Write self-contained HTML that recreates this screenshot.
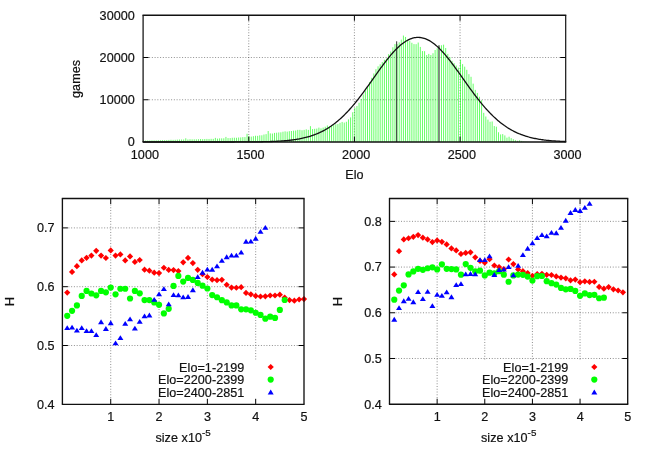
<!DOCTYPE html>
<html><head><meta charset="utf-8"><title>Elo distribution and H vs size</title>
<style>html,body{margin:0;padding:0;background:#fff;}body{width:654px;height:458px;overflow:hidden;}svg{display:block;will-change:transform;font-family:"Liberation Sans",sans-serif;font-size:12.6px;fill:#111;letter-spacing:0.05px;}text{stroke:#111;stroke-width:0.2px;}.g{stroke:#444;stroke-width:0.6;stroke-dasharray:1 1.75;fill:none;}.a{stroke:#111;stroke-width:1;fill:none;}.t{stroke:#000;stroke-width:1;fill:none;}.r{fill:#ff0000;}.gr{fill:#00ff00;}.bl{fill:#0000ff;}</style></head><body>
<svg width="654" height="458" viewBox="0 0 654 458">
<rect x="0" y="0" width="654" height="458" fill="#ffffff"/>
<g class="g">
<line x1="149.1" y1="99.75" x2="559.7" y2="99.75"/>
<line x1="149.1" y1="57.5" x2="559.7" y2="57.5"/>
<line x1="248.75" y1="21.25" x2="248.75" y2="136"/>
<line x1="354.4" y1="21.25" x2="354.4" y2="136"/>
<line x1="460.05" y1="21.25" x2="460.05" y2="136"/>
</g>
<g stroke="#00ff00" stroke-opacity="0.6" stroke-width="1">
<line x1="143.52" y1="140.61" x2="143.52" y2="142"/>
<line x1="145.64" y1="140.59" x2="145.64" y2="142"/>
<line x1="147.75" y1="140.47" x2="147.75" y2="142"/>
<line x1="149.86" y1="140.51" x2="149.86" y2="142"/>
<line x1="151.97" y1="140.39" x2="151.97" y2="142"/>
<line x1="154.09" y1="140.37" x2="154.09" y2="142"/>
<line x1="156.2" y1="140.37" x2="156.2" y2="142"/>
<line x1="158.31" y1="140.23" x2="158.31" y2="142"/>
<line x1="160.43" y1="140.26" x2="160.43" y2="142"/>
<line x1="162.54" y1="140.13" x2="162.54" y2="142"/>
<line x1="164.65" y1="140.14" x2="164.65" y2="142"/>
<line x1="166.77" y1="140.07" x2="166.77" y2="142"/>
<line x1="168.88" y1="139.95" x2="168.88" y2="142"/>
<line x1="170.99" y1="139.8" x2="170.99" y2="142"/>
<line x1="173.1" y1="139.89" x2="173.1" y2="142"/>
<line x1="175.22" y1="139.8" x2="175.22" y2="142"/>
<line x1="177.33" y1="139.64" x2="177.33" y2="142"/>
<line x1="179.44" y1="139.5" x2="179.44" y2="142"/>
<line x1="181.56" y1="139.53" x2="181.56" y2="142"/>
<line x1="183.67" y1="139.51" x2="183.67" y2="142"/>
<line x1="185.78" y1="138.31" x2="185.78" y2="142"/>
<line x1="187.9" y1="139.51" x2="187.9" y2="142"/>
<line x1="190.01" y1="139.24" x2="190.01" y2="142"/>
<line x1="192.12" y1="139.35" x2="192.12" y2="142"/>
<line x1="194.23" y1="139.34" x2="194.23" y2="142"/>
<line x1="196.35" y1="139.3" x2="196.35" y2="142"/>
<line x1="198.46" y1="139.2" x2="198.46" y2="142"/>
<line x1="200.57" y1="139.01" x2="200.57" y2="142"/>
<line x1="202.69" y1="139.15" x2="202.69" y2="142"/>
<line x1="204.8" y1="138.99" x2="204.8" y2="142"/>
<line x1="206.91" y1="138.92" x2="206.91" y2="142"/>
<line x1="209.03" y1="138.96" x2="209.03" y2="142"/>
<line x1="211.14" y1="138.83" x2="211.14" y2="142"/>
<line x1="213.25" y1="138.88" x2="213.25" y2="142"/>
<line x1="215.36" y1="137.88" x2="215.36" y2="142"/>
<line x1="217.48" y1="138.63" x2="217.48" y2="142"/>
<line x1="219.59" y1="138.36" x2="219.59" y2="142"/>
<line x1="221.7" y1="138.36" x2="221.7" y2="142"/>
<line x1="223.82" y1="138.31" x2="223.82" y2="142"/>
<line x1="225.93" y1="136.92" x2="225.93" y2="142"/>
<line x1="228.04" y1="138.08" x2="228.04" y2="142"/>
<line x1="230.16" y1="138.06" x2="230.16" y2="142"/>
<line x1="232.27" y1="137.76" x2="232.27" y2="142"/>
<line x1="234.38" y1="137.69" x2="234.38" y2="142"/>
<line x1="236.49" y1="137.77" x2="236.49" y2="142"/>
<line x1="238.61" y1="137.51" x2="238.61" y2="142"/>
<line x1="240.72" y1="137.42" x2="240.72" y2="142"/>
<line x1="242.83" y1="137.14" x2="242.83" y2="142"/>
<line x1="244.95" y1="137.09" x2="244.95" y2="142"/>
<line x1="247.06" y1="133.75" x2="247.06" y2="142"/>
<line x1="249.17" y1="136.43" x2="249.17" y2="142"/>
<line x1="251.29" y1="136.64" x2="251.29" y2="142"/>
<line x1="253.4" y1="136.21" x2="253.4" y2="142"/>
<line x1="255.51" y1="135.75" x2="255.51" y2="142"/>
<line x1="257.62" y1="135.87" x2="257.62" y2="142"/>
<line x1="259.74" y1="135.33" x2="259.74" y2="142"/>
<line x1="261.85" y1="135.31" x2="261.85" y2="142"/>
<line x1="263.96" y1="134.53" x2="263.96" y2="142"/>
<line x1="266.08" y1="134.12" x2="266.08" y2="142"/>
<line x1="268.19" y1="131.04" x2="268.19" y2="142"/>
<line x1="270.3" y1="133.39" x2="270.3" y2="142"/>
<line x1="272.42" y1="133.56" x2="272.42" y2="142"/>
<line x1="274.53" y1="132.92" x2="274.53" y2="142"/>
<line x1="276.64" y1="132.71" x2="276.64" y2="142"/>
<line x1="278.75" y1="132.44" x2="278.75" y2="142"/>
<line x1="280.87" y1="132.33" x2="280.87" y2="142"/>
<line x1="282.98" y1="131.72" x2="282.98" y2="142"/>
<line x1="285.09" y1="131.37" x2="285.09" y2="142"/>
<line x1="287.21" y1="131.62" x2="287.21" y2="142"/>
<line x1="289.32" y1="131.19" x2="289.32" y2="142"/>
<line x1="291.43" y1="131.01" x2="291.43" y2="142"/>
<line x1="293.55" y1="130.68" x2="293.55" y2="142"/>
<line x1="295.66" y1="130.51" x2="295.66" y2="142"/>
<line x1="297.77" y1="129.87" x2="297.77" y2="142"/>
<line x1="299.88" y1="129.83" x2="299.88" y2="142"/>
<line x1="302" y1="130.24" x2="302" y2="142"/>
<line x1="304.11" y1="129.89" x2="304.11" y2="142"/>
<line x1="306.22" y1="129.3" x2="306.22" y2="142"/>
<line x1="308.34" y1="129.89" x2="308.34" y2="142"/>
<line x1="310.45" y1="126.17" x2="310.45" y2="142"/>
<line x1="312.56" y1="129.1" x2="312.56" y2="142"/>
<line x1="314.68" y1="128.82" x2="314.68" y2="142"/>
<line x1="316.79" y1="128.62" x2="316.79" y2="142"/>
<line x1="318.9" y1="127.62" x2="318.9" y2="142"/>
<line x1="321.01" y1="128.37" x2="321.01" y2="142"/>
<line x1="323.13" y1="127.59" x2="323.13" y2="142"/>
<line x1="325.24" y1="126.76" x2="325.24" y2="142"/>
<line x1="327.35" y1="125.44" x2="327.35" y2="142"/>
<line x1="329.47" y1="126.42" x2="329.47" y2="142"/>
<line x1="331.58" y1="125.53" x2="331.58" y2="142"/>
<line x1="333.69" y1="125.08" x2="333.69" y2="142"/>
<line x1="335.81" y1="124.31" x2="335.81" y2="142"/>
<line x1="337.92" y1="124.09" x2="337.92" y2="142"/>
<line x1="340.03" y1="122.8" x2="340.03" y2="142"/>
<line x1="342.14" y1="121.91" x2="342.14" y2="142"/>
<line x1="344.26" y1="122.6" x2="344.26" y2="142"/>
<line x1="346.37" y1="121.76" x2="346.37" y2="142"/>
<line x1="348.48" y1="119.37" x2="348.48" y2="142"/>
<line x1="350.6" y1="117.42" x2="350.6" y2="142"/>
<line x1="352.71" y1="112.28" x2="352.71" y2="142"/>
<line x1="354.82" y1="107.79" x2="354.82" y2="142"/>
<line x1="356.94" y1="105.97" x2="356.94" y2="142"/>
<line x1="359.05" y1="102.74" x2="359.05" y2="142"/>
<line x1="361.16" y1="98.89" x2="361.16" y2="142"/>
<line x1="363.27" y1="94.52" x2="363.27" y2="142"/>
<line x1="365.39" y1="90.66" x2="365.39" y2="142"/>
<line x1="367.5" y1="86.79" x2="367.5" y2="142"/>
<line x1="369.61" y1="81.98" x2="369.61" y2="142"/>
<line x1="371.73" y1="77.78" x2="371.73" y2="142"/>
<line x1="373.84" y1="73.47" x2="373.84" y2="142"/>
<line x1="375.95" y1="69.21" x2="375.95" y2="142"/>
<line x1="378.07" y1="66.34" x2="378.07" y2="142"/>
<line x1="380.18" y1="64.31" x2="380.18" y2="142"/>
<line x1="382.29" y1="61.98" x2="382.29" y2="142"/>
<line x1="384.4" y1="59.75" x2="384.4" y2="142"/>
<line x1="386.52" y1="58.52" x2="386.52" y2="142"/>
<line x1="388.63" y1="54.16" x2="388.63" y2="142"/>
<line x1="390.74" y1="51.54" x2="390.74" y2="142"/>
<line x1="392.86" y1="47.28" x2="392.86" y2="142"/>
<line x1="394.97" y1="44.09" x2="394.97" y2="142"/>
<line x1="397.08" y1="44.06" x2="397.08" y2="142"/>
<line x1="399.2" y1="42.36" x2="399.2" y2="142"/>
<line x1="401.31" y1="39.63" x2="401.31" y2="142"/>
<line x1="403.42" y1="35.56" x2="403.42" y2="142"/>
<line x1="405.53" y1="36.96" x2="405.53" y2="142"/>
<line x1="407.65" y1="39.67" x2="407.65" y2="142"/>
<line x1="409.76" y1="40.76" x2="409.76" y2="142"/>
<line x1="411.87" y1="42.78" x2="411.87" y2="142"/>
<line x1="413.99" y1="44.12" x2="413.99" y2="142"/>
<line x1="416.1" y1="44.16" x2="416.1" y2="142"/>
<line x1="418.21" y1="42.54" x2="418.21" y2="142"/>
<line x1="420.33" y1="46.93" x2="420.33" y2="142"/>
<line x1="422.44" y1="51.06" x2="422.44" y2="142"/>
<line x1="424.55" y1="51.18" x2="424.55" y2="142"/>
<line x1="426.66" y1="55.02" x2="426.66" y2="142"/>
<line x1="428.78" y1="53.89" x2="428.78" y2="142"/>
<line x1="430.89" y1="55.02" x2="430.89" y2="142"/>
<line x1="433" y1="53.24" x2="433" y2="142"/>
<line x1="435.12" y1="50.03" x2="435.12" y2="142"/>
<line x1="437.23" y1="48.25" x2="437.23" y2="142"/>
<line x1="439.34" y1="45.72" x2="439.34" y2="142"/>
<line x1="441.46" y1="45.25" x2="441.46" y2="142"/>
<line x1="443.57" y1="44.68" x2="443.57" y2="142"/>
<line x1="445.68" y1="47.99" x2="445.68" y2="142"/>
<line x1="447.79" y1="53.92" x2="447.79" y2="142"/>
<line x1="449.91" y1="57.18" x2="449.91" y2="142"/>
<line x1="452.02" y1="60.84" x2="452.02" y2="142"/>
<line x1="454.13" y1="63.2" x2="454.13" y2="142"/>
<line x1="456.25" y1="65.52" x2="456.25" y2="142"/>
<line x1="458.36" y1="67.69" x2="458.36" y2="142"/>
<line x1="460.47" y1="59.72" x2="460.47" y2="142"/>
<line x1="462.59" y1="64.11" x2="462.59" y2="142"/>
<line x1="464.7" y1="66.66" x2="464.7" y2="142"/>
<line x1="466.81" y1="69.81" x2="466.81" y2="142"/>
<line x1="468.92" y1="74.16" x2="468.92" y2="142"/>
<line x1="471.04" y1="76.79" x2="471.04" y2="142"/>
<line x1="473.15" y1="83.66" x2="473.15" y2="142"/>
<line x1="475.26" y1="89.9" x2="475.26" y2="142"/>
<line x1="477.38" y1="92.93" x2="477.38" y2="142"/>
<line x1="479.49" y1="96.74" x2="479.49" y2="142"/>
<line x1="481.6" y1="100.26" x2="481.6" y2="142"/>
<line x1="483.72" y1="112.85" x2="483.72" y2="142"/>
<line x1="485.83" y1="116.51" x2="485.83" y2="142"/>
<line x1="487.94" y1="119.65" x2="487.94" y2="142"/>
<line x1="490.05" y1="121.76" x2="490.05" y2="142"/>
<line x1="492.17" y1="121.47" x2="492.17" y2="142"/>
<line x1="494.28" y1="126.04" x2="494.28" y2="142"/>
<line x1="496.39" y1="126.7" x2="496.39" y2="142"/>
<line x1="498.51" y1="132.26" x2="498.51" y2="142"/>
<line x1="500.62" y1="134.43" x2="500.62" y2="142"/>
<line x1="502.73" y1="134.12" x2="502.73" y2="142"/>
<line x1="504.85" y1="135.41" x2="504.85" y2="142"/>
<line x1="506.96" y1="137.64" x2="506.96" y2="142"/>
<line x1="509.07" y1="136.71" x2="509.07" y2="142"/>
<line x1="511.18" y1="138.11" x2="511.18" y2="142"/>
<line x1="513.3" y1="139.18" x2="513.3" y2="142"/>
<line x1="515.41" y1="140.12" x2="515.41" y2="142"/>
<line x1="517.52" y1="140.75" x2="517.52" y2="142"/>
<line x1="519.64" y1="140.25" x2="519.64" y2="142"/>
<line x1="521.75" y1="140.88" x2="521.75" y2="142"/>
<line x1="523.86" y1="141.38" x2="523.86" y2="142"/>
<line x1="525.98" y1="141.59" x2="525.98" y2="142"/>
<line x1="528.09" y1="141.76" x2="528.09" y2="142"/>
</g>
<line x1="396.66" y1="41.3" x2="396.66" y2="142" stroke="#333" stroke-width="1"/>
<line x1="438.92" y1="45.2" x2="438.92" y2="142" stroke="#777" stroke-width="1.6"/>
<polyline fill="none" stroke="#111" stroke-width="1.3" points="143.1,142 144.16,142 145.21,142 146.27,142 147.33,142 148.38,142 149.44,142 150.5,142 151.55,142 152.61,142 153.66,142 154.72,142 155.78,142 156.83,142 157.89,142 158.95,142 160,142 161.06,142 162.12,142 163.17,142 164.23,142 165.29,142 166.34,142 167.4,142 168.46,142 169.51,142 170.57,142 171.63,142 172.68,142 173.74,142 174.79,142 175.85,142 176.91,142 177.96,142 179.02,142 180.08,142 181.13,142 182.19,142 183.25,142 184.3,142 185.36,142 186.42,142 187.47,142 188.53,142 189.59,142 190.64,142 191.7,142 192.76,142 193.81,142 194.87,142 195.93,142 196.98,142 198.04,142 199.09,142 200.15,142 201.21,142 202.26,142 203.32,142 204.38,142 205.43,142 206.49,142 207.55,142 208.6,142 209.66,142 210.72,142 211.77,142 212.83,142 213.89,142 214.94,142 216,142 217.06,142 218.11,141.99 219.17,141.99 220.22,141.99 221.28,141.99 222.34,141.99 223.39,141.99 224.45,141.99 225.51,141.99 226.56,141.99 227.62,141.99 228.68,141.99 229.73,141.98 230.79,141.98 231.85,141.98 232.9,141.98 233.96,141.98 235.02,141.97 236.07,141.97 237.13,141.97 238.19,141.97 239.24,141.96 240.3,141.96 241.35,141.96 242.41,141.95 243.47,141.95 244.52,141.94 245.58,141.94 246.64,141.93 247.69,141.92 248.75,141.92 249.81,141.91 250.86,141.9 251.92,141.89 252.98,141.88 254.03,141.87 255.09,141.86 256.15,141.85 257.2,141.83 258.26,141.82 259.31,141.8 260.37,141.78 261.43,141.77 262.48,141.75 263.54,141.72 264.6,141.7 265.65,141.68 266.71,141.65 267.77,141.62 268.82,141.59 269.88,141.55 270.94,141.52 271.99,141.48 273.05,141.44 274.11,141.39 275.16,141.35 276.22,141.3 277.28,141.24 278.33,141.18 279.39,141.12 280.44,141.06 281.5,140.99 282.56,140.91 283.61,140.83 284.67,140.75 285.73,140.66 286.78,140.56 287.84,140.46 288.9,140.35 289.95,140.23 291.01,140.11 292.07,139.98 293.12,139.84 294.18,139.7 295.24,139.54 296.29,139.38 297.35,139.21 298.41,139.03 299.46,138.83 300.52,138.63 301.58,138.42 302.63,138.19 303.69,137.96 304.74,137.71 305.8,137.45 306.86,137.17 307.91,136.88 308.97,136.58 310.03,136.26 311.08,135.93 312.14,135.58 313.2,135.21 314.25,134.83 315.31,134.43 316.37,134.01 317.42,133.58 318.48,133.12 319.54,132.65 320.59,132.15 321.65,131.64 322.71,131.1 323.76,130.55 324.82,129.97 325.87,129.37 326.93,128.74 327.99,128.1 329.04,127.43 330.1,126.73 331.16,126.02 332.21,125.28 333.27,124.51 334.33,123.72 335.38,122.9 336.44,122.06 337.5,121.19 338.55,120.3 339.61,119.38 340.67,118.43 341.72,117.46 342.78,116.46 343.84,115.44 344.89,114.39 345.95,113.32 347,112.22 348.06,111.1 349.12,109.95 350.17,108.77 351.23,107.58 352.29,106.36 353.34,105.11 354.4,103.85 355.46,102.56 356.51,101.25 357.57,99.93 358.63,98.58 359.68,97.21 360.74,95.83 361.8,94.43 362.85,93.02 363.91,91.59 364.97,90.15 366.02,88.7 367.08,87.24 368.13,85.77 369.19,84.29 370.25,82.8 371.3,81.31 372.36,79.82 373.42,78.33 374.47,76.83 375.53,75.34 376.59,73.85 377.64,72.37 378.7,70.9 379.76,69.43 380.81,67.97 381.87,66.53 382.93,65.1 383.98,63.69 385.04,62.3 386.1,60.92 387.15,59.57 388.21,58.25 389.26,56.94 390.32,55.67 391.38,54.43 392.43,53.21 393.49,52.03 394.55,50.89 395.6,49.78 396.66,48.71 397.72,47.68 398.77,46.69 399.83,45.74 400.89,44.84 401.94,43.99 403,43.18 404.06,42.42 405.11,41.71 406.17,41.05 407.23,40.45 408.28,39.89 409.34,39.39 410.39,38.95 411.45,38.56 412.51,38.23 413.56,37.95 414.62,37.73 415.68,37.57 416.73,37.46 417.79,37.42 418.85,37.43 419.9,37.5 420.96,37.63 422.02,37.81 423.07,38.05 424.13,38.35 425.19,38.71 426.24,39.12 427.3,39.59 428.36,40.11 429.41,40.68 430.47,41.31 431.52,41.99 432.58,42.72 433.64,43.5 434.69,44.33 435.75,45.2 436.81,46.12 437.86,47.08 438.92,48.09 439.98,49.13 441.03,50.22 442.09,51.34 443.15,52.5 444.2,53.69 445.26,54.92 446.32,56.18 447.37,57.46 448.43,58.77 449.49,60.11 450.54,61.47 451.6,62.85 452.65,64.25 453.71,65.67 454.77,67.11 455.82,68.55 456.88,70.01 457.94,71.48 458.99,72.96 460.05,74.45 461.11,75.94 462.16,77.43 463.22,78.92 464.28,80.42 465.33,81.91 466.39,83.4 467.45,84.88 468.5,86.36 469.56,87.82 470.62,89.28 471.67,90.73 472.73,92.17 473.78,93.59 474.84,95 475.9,96.39 476.95,97.76 478.01,99.12 479.07,100.46 480.12,101.78 481.18,103.08 482.24,104.36 483.29,105.61 484.35,106.85 485.41,108.06 486.46,109.25 487.52,110.41 488.58,111.55 489.63,112.66 490.69,113.75 491.75,114.81 492.8,115.85 493.86,116.87 494.91,117.85 495.97,118.81 497.03,119.75 498.08,120.66 499.14,121.54 500.2,122.4 501.25,123.23 502.31,124.04 503.37,124.82 504.42,125.58 505.48,126.31 506.54,127.01 507.59,127.7 508.65,128.36 509.71,129 510.76,129.61 511.82,130.2 512.88,130.77 513.93,131.32 514.99,131.85 516.04,132.35 517.1,132.84 518.16,133.3 519.21,133.75 520.27,134.18 521.33,134.59 522.38,134.98 523.44,135.36 524.5,135.72 525.55,136.06 526.61,136.39 527.67,136.7 528.72,137 529.78,137.28 530.84,137.55 531.89,137.81 532.95,138.05 534,138.28 535.06,138.5 536.12,138.71 537.17,138.91 538.23,139.1 539.29,139.28 540.34,139.45 541.4,139.61 542.46,139.76 543.51,139.9 544.57,140.03 545.63,140.16 546.68,140.28 547.74,140.39 548.8,140.5 549.85,140.6 550.91,140.69 551.97,140.78 553.02,140.86 554.08,140.94 555.13,141.02 556.19,141.08 557.25,141.15 558.3,141.21 559.36,141.26 560.42,141.32 561.47,141.37 562.53,141.41 563.59,141.46 564.64,141.5 565.7,141.53"/>
<g class="t">
<line x1="143.1" y1="99.75" x2="148.6" y2="99.75"/>
<line x1="565.7" y1="99.75" x2="560.2" y2="99.75"/>
<line x1="143.1" y1="57.5" x2="148.6" y2="57.5"/>
<line x1="565.7" y1="57.5" x2="560.2" y2="57.5"/>
<line x1="248.75" y1="142" x2="248.75" y2="136.5"/>
<line x1="248.75" y1="15.25" x2="248.75" y2="20.75"/>
<line x1="354.4" y1="142" x2="354.4" y2="136.5"/>
<line x1="354.4" y1="15.25" x2="354.4" y2="20.75"/>
<line x1="460.05" y1="142" x2="460.05" y2="136.5"/>
<line x1="460.05" y1="15.25" x2="460.05" y2="20.75"/>
</g>
<line class="a" style="stroke-width:1.3" x1="142.5" y1="15.25" x2="566.3" y2="15.25"/>
<line class="a" style="stroke-width:1.3" x1="142.5" y1="142" x2="566.3" y2="142"/>
<line class="a" style="stroke:#111;stroke-width:1.25" x1="143.1" y1="15.25" x2="143.1" y2="142"/>
<line class="a" style="stroke-width:1.2" x1="565.7" y1="15.25" x2="565.7" y2="142"/>
<text x="134.9" y="146.3" text-anchor="end">0</text>
<text x="134.9" y="104.05" text-anchor="end">10000</text>
<text x="134.9" y="61.8" text-anchor="end">20000</text>
<text x="134.9" y="19.55" text-anchor="end">30000</text>
<text x="144.9" y="159.3" text-anchor="middle">1000</text>
<text x="250.55" y="159.3" text-anchor="middle">1500</text>
<text x="356.2" y="159.3" text-anchor="middle">2000</text>
<text x="461.85" y="159.3" text-anchor="middle">2500</text>
<text x="567.5" y="159.3" text-anchor="middle">3000</text>
<text x="354.4" y="178.8" text-anchor="middle">Elo</text>
<text transform="translate(80.3,78.9) rotate(-90)" text-anchor="middle">games</text>
<g class="g">
<line x1="68.4" y1="345.5" x2="298" y2="345.5"/>
<line x1="68.4" y1="286.7" x2="298" y2="286.7"/>
<line x1="68.4" y1="227.9" x2="298" y2="227.9"/>
<line x1="110.72" y1="204.5" x2="110.72" y2="398.3"/>
<line x1="159.04" y1="204.5" x2="159.04" y2="360.6"/>
<line x1="207.36" y1="204.5" x2="207.36" y2="360.6"/>
<line x1="255.68" y1="204.5" x2="255.68" y2="360.6"/>
</g>
<g class="r"><path d="M67.23 289.48L70.33 292.58L67.23 295.68L64.13 292.58Z"/><path d="M72.06 268.81L75.16 271.91L72.06 275.01L68.96 271.91Z"/><path d="M76.9 263.05L80 266.15L76.9 269.25L73.8 266.15Z"/><path d="M81.73 257.28L84.83 260.38L81.73 263.48L78.63 260.38Z"/><path d="M86.56 254.7L89.66 257.8L86.56 260.9L83.46 257.8Z"/><path d="M91.39 252.51L94.49 255.61L91.39 258.71L88.29 255.61Z"/><path d="M96.22 247.74L99.32 250.84L96.22 253.94L93.12 250.84Z"/><path d="M101.06 252.51L104.16 255.61L101.06 258.71L97.96 255.61Z"/><path d="M105.89 254.9L108.99 258L105.89 261.1L102.79 258Z"/><path d="M110.72 247.34L113.82 250.44L110.72 253.54L107.62 250.44Z"/><path d="M115.55 252.51L118.65 255.61L115.55 258.71L112.45 255.61Z"/><path d="M120.38 251.32L123.48 254.42L120.38 257.52L117.28 254.42Z"/><path d="M125.22 257.28L128.32 260.38L125.22 263.48L122.12 260.38Z"/><path d="M130.05 253.31L133.15 256.41L130.05 259.51L126.95 256.41Z"/><path d="M134.88 258.87L137.98 261.97L134.88 265.07L131.78 261.97Z"/><path d="M139.71 256.88L142.81 259.98L139.71 263.08L136.61 259.98Z"/><path d="M144.54 266.62L147.64 269.72L144.54 272.82L141.44 269.72Z"/><path d="M149.38 267.62L152.48 270.72L149.38 273.82L146.28 270.72Z"/><path d="M154.21 269.61L157.31 272.71L154.21 275.81L151.11 272.71Z"/><path d="M159.04 270L162.14 273.1L159.04 276.2L155.94 273.1Z"/><path d="M163.87 264.64L166.97 267.74L163.87 270.84L160.77 267.74Z"/><path d="M168.7 266.82L171.8 269.92L168.7 273.02L165.6 269.92Z"/><path d="M173.54 267.02L176.64 270.12L173.54 273.22L170.44 270.12Z"/><path d="M178.37 267.96L181.47 271.06L178.37 274.16L175.27 271.06Z"/><path d="M183.2 259.21L186.3 262.31L183.2 265.41L180.1 262.31Z"/><path d="M188.03 254.84L191.13 257.94L188.03 261.04L184.93 257.94Z"/><path d="M192.86 260L195.96 263.1L192.86 266.2L189.76 263.1Z"/><path d="M197.7 266.76L200.8 269.86L197.7 272.96L194.6 269.86Z"/><path d="M202.53 271.14L205.63 274.24L202.53 277.34L199.43 274.24Z"/><path d="M207.36 273.92L210.46 277.02L207.36 280.12L204.26 277.02Z"/><path d="M212.19 276.5L215.29 279.6L212.19 282.7L209.09 279.6Z"/><path d="M217.02 277.1L220.12 280.2L217.02 283.3L213.92 280.2Z"/><path d="M221.86 276.7L224.96 279.8L221.86 282.9L218.76 279.8Z"/><path d="M226.69 281.67L229.79 284.77L226.69 287.87L223.59 284.77Z"/><path d="M231.52 284.45L234.62 287.55L231.52 290.65L228.42 287.55Z"/><path d="M236.35 284.65L239.45 287.75L236.35 290.85L233.25 287.75Z"/><path d="M241.18 284.06L244.28 287.16L241.18 290.26L238.08 287.16Z"/><path d="M246.02 289.82L249.12 292.92L246.02 296.02L242.92 292.92Z"/><path d="M250.85 291.21L253.95 294.31L250.85 297.41L247.75 294.31Z"/><path d="M255.68 292.8L258.78 295.9L255.68 299L252.58 295.9Z"/><path d="M260.51 293.4L263.61 296.5L260.51 299.6L257.41 296.5Z"/><path d="M265.34 293.2L268.44 296.3L265.34 299.4L262.24 296.3Z"/><path d="M270.18 292.4L273.28 295.5L270.18 298.6L267.08 295.5Z"/><path d="M275.01 292.4L278.11 295.5L275.01 298.6L271.91 295.5Z"/><path d="M279.84 291.61L282.94 294.71L279.84 297.81L276.74 294.71Z"/><path d="M284.67 294.39L287.77 297.49L284.67 300.59L281.57 297.49Z"/><path d="M289.5 296.98L292.6 300.08L289.5 303.18L286.4 300.08Z"/><path d="M294.34 297.57L297.44 300.67L294.34 303.77L291.24 300.67Z"/><path d="M299.17 296.38L302.27 299.48L299.17 302.58L296.07 299.48Z"/><path d="M304 295.98L307.1 299.08L304 302.18L300.9 299.08Z"/></g>
<g class="gr"><circle cx="67.23" cy="315.78" r="3.1"/><circle cx="72.06" cy="310.81" r="3.1"/><circle cx="76.9" cy="305.44" r="3.1"/><circle cx="81.73" cy="295.9" r="3.1"/><circle cx="86.56" cy="290.93" r="3.1"/><circle cx="91.39" cy="293.52" r="3.1"/><circle cx="96.22" cy="295.31" r="3.1"/><circle cx="101.06" cy="290.93" r="3.1"/><circle cx="105.89" cy="292.32" r="3.1"/><circle cx="110.72" cy="287.55" r="3.1"/><circle cx="115.55" cy="294.31" r="3.1"/><circle cx="120.38" cy="288.75" r="3.1"/><circle cx="125.22" cy="288.75" r="3.1"/><circle cx="130.05" cy="298.49" r="3.1"/><circle cx="134.88" cy="290.93" r="3.1"/><circle cx="139.71" cy="293.32" r="3.1"/><circle cx="144.54" cy="300.08" r="3.1"/><circle cx="149.38" cy="300.08" r="3.1"/><circle cx="154.21" cy="302.46" r="3.1"/><circle cx="159.04" cy="304.85" r="3.1"/><circle cx="163.87" cy="313.39" r="3.1"/><circle cx="168.7" cy="308.82" r="3.1"/><circle cx="173.54" cy="285.96" r="3.1"/><circle cx="178.37" cy="275.96" r="3.1"/><circle cx="183.2" cy="281.53" r="3.1"/><circle cx="188.03" cy="277.95" r="3.1"/><circle cx="192.86" cy="279.94" r="3.1"/><circle cx="197.7" cy="282.92" r="3.1"/><circle cx="202.53" cy="285.7" r="3.1"/><circle cx="207.36" cy="288.49" r="3.1"/><circle cx="212.19" cy="295.05" r="3.1"/><circle cx="217.02" cy="297.23" r="3.1"/><circle cx="221.86" cy="300.21" r="3.1"/><circle cx="226.69" cy="302.4" r="3.1"/><circle cx="231.52" cy="305.38" r="3.1"/><circle cx="236.35" cy="305.38" r="3.1"/><circle cx="241.18" cy="309.36" r="3.1"/><circle cx="246.02" cy="309.36" r="3.1"/><circle cx="250.85" cy="310.35" r="3.1"/><circle cx="255.68" cy="312.74" r="3.1"/><circle cx="260.51" cy="314.92" r="3.1"/><circle cx="265.34" cy="318.7" r="3.1"/><circle cx="270.18" cy="316.71" r="3.1"/><circle cx="275.01" cy="317.91" r="3.1"/><circle cx="279.84" cy="309.95" r="3.1"/><circle cx="284.67" cy="300.02" r="3.1"/></g>
<g class="bl"><path d="M67.23 325.31L70.23 330.11L64.23 330.11Z"/><path d="M72.06 324.71L75.06 329.51L69.06 329.51Z"/><path d="M76.9 327.69L79.9 332.49L73.9 332.49Z"/><path d="M81.73 325.31L84.73 330.11L78.73 330.11Z"/><path d="M86.56 328.29L89.56 333.09L83.56 333.09Z"/><path d="M91.39 328.29L94.39 333.09L88.39 333.09Z"/><path d="M96.22 332.26L99.22 337.06L93.22 337.06Z"/><path d="M101.06 319.34L104.06 324.14L98.06 324.14Z"/><path d="M105.89 326.1L108.89 330.9L102.89 330.9Z"/><path d="M110.72 320.34L113.72 325.14L107.72 325.14Z"/><path d="M115.55 340.41L118.55 345.21L112.55 345.21Z"/><path d="M120.38 335.25L123.38 340.05L117.38 340.05Z"/><path d="M125.22 320.93L128.22 325.73L122.22 325.73Z"/><path d="M130.05 316.56L133.05 321.36L127.05 321.36Z"/><path d="M134.88 325.7L137.88 330.5L131.88 330.5Z"/><path d="M139.71 318.95L142.71 323.75L136.71 323.75Z"/><path d="M144.54 313.38L147.54 318.18L141.54 318.18Z"/><path d="M149.38 312.58L152.38 317.38L146.38 317.38Z"/><path d="M154.21 296.88L157.21 301.68L151.21 301.68Z"/><path d="M159.04 291.51L162.04 296.31L156.04 296.31Z"/><path d="M163.87 286.15L166.87 290.95L160.87 290.95Z"/><path d="M168.7 301.45L171.7 306.25L165.7 306.25Z"/><path d="M173.54 292.31L176.54 297.11L170.54 297.11Z"/><path d="M178.37 292.51L181.37 297.31L175.37 297.31Z"/><path d="M183.2 294.5L186.2 299.3L180.2 299.3Z"/><path d="M188.03 294.1L191.03 298.9L185.03 298.9Z"/><path d="M192.86 287.34L195.86 292.14L189.86 292.14Z"/><path d="M197.7 274.22L200.7 279.02L194.7 279.02Z"/><path d="M202.53 269.85L205.53 274.65L199.53 274.65Z"/><path d="M207.36 266.67L210.36 271.47L204.36 271.47Z"/><path d="M212.19 266.87L215.19 271.67L209.19 271.67Z"/><path d="M217.02 263.49L220.02 268.29L214.02 268.29Z"/><path d="M221.86 257.92L224.86 262.72L218.86 262.72Z"/><path d="M226.69 254.34L229.69 259.14L223.69 259.14Z"/><path d="M231.52 252.75L234.52 257.55L228.52 257.55Z"/><path d="M236.35 252.75L239.35 257.55L233.35 257.55Z"/><path d="M241.18 249.77L244.18 254.57L238.18 254.57Z"/><path d="M246.02 238.84L249.02 243.64L243.02 243.64Z"/><path d="M250.85 238.64L253.85 243.44L247.85 243.44Z"/><path d="M255.68 235.86L258.68 240.66L252.68 240.66Z"/><path d="M260.51 228.9L263.51 233.7L257.51 233.7Z"/><path d="M265.34 224.92L268.34 229.72L262.34 229.72Z"/></g>
<g class="t">
<line x1="62.4" y1="345.5" x2="67.9" y2="345.5"/>
<line x1="304" y1="345.5" x2="298.5" y2="345.5"/>
<line x1="62.4" y1="286.7" x2="67.9" y2="286.7"/>
<line x1="304" y1="286.7" x2="298.5" y2="286.7"/>
<line x1="62.4" y1="227.9" x2="67.9" y2="227.9"/>
<line x1="304" y1="227.9" x2="298.5" y2="227.9"/>
<line x1="110.72" y1="404.3" x2="110.72" y2="398.8"/>
<line x1="110.72" y1="198.5" x2="110.72" y2="204"/>
<line x1="159.04" y1="404.3" x2="159.04" y2="398.8"/>
<line x1="159.04" y1="198.5" x2="159.04" y2="204"/>
<line x1="207.36" y1="404.3" x2="207.36" y2="398.8"/>
<line x1="207.36" y1="198.5" x2="207.36" y2="204"/>
<line x1="255.68" y1="404.3" x2="255.68" y2="398.8"/>
<line x1="255.68" y1="198.5" x2="255.68" y2="204"/>
</g>
<line class="a" style="stroke-width:1.35" x1="61.8" y1="198.5" x2="304.6" y2="198.5"/>
<line class="a" style="stroke-width:1.35" x1="61.8" y1="404.3" x2="304.6" y2="404.3"/>
<line class="a" style="stroke-width:1.35" x1="62.4" y1="198.5" x2="62.4" y2="404.3"/>
<line class="a" style="stroke-width:1.35" x1="304" y1="198.5" x2="304" y2="404.3"/>
<text x="54.7" y="408.7" text-anchor="end">0.4</text>
<text x="54.7" y="349.9" text-anchor="end">0.5</text>
<text x="54.7" y="291.1" text-anchor="end">0.6</text>
<text x="54.7" y="232.3" text-anchor="end">0.7</text>
<text x="110.82" y="421.1" text-anchor="middle">1</text>
<text x="159.14" y="421.1" text-anchor="middle">2</text>
<text x="207.46" y="421.1" text-anchor="middle">3</text>
<text x="255.78" y="421.1" text-anchor="middle">4</text>
<text x="304.1" y="421.1" text-anchor="middle">5</text>
<text x="244.4" y="371.8" text-anchor="end">Elo=1-2199</text>
<text x="244.4" y="384.4" text-anchor="end">Elo=2200-2399</text>
<text x="244.4" y="397" text-anchor="end">Elo=2400-2851</text>
<g class="r"><path d="M270.7 363.9L273.8 367L270.7 370.1L267.6 367Z"/></g>
<g class="gr"><circle cx="270.7" cy="379.6" r="3.1"/></g>
<g class="bl"><path d="M270.7 389.6L273.7 394.4L267.7 394.4Z"/></g>
<text transform="translate(14.2,301.5) rotate(-90)" text-anchor="middle" font-size="13">H</text>
<text x="155.4" y="441.7">size x10<tspan dy="-5.5" font-size="9.8">-5</tspan></text>
<g class="g">
<line x1="395.5" y1="358.49" x2="621.7" y2="358.49"/>
<line x1="395.5" y1="312.78" x2="621.7" y2="312.78"/>
<line x1="395.5" y1="267.07" x2="621.7" y2="267.07"/>
<line x1="395.5" y1="221.36" x2="621.7" y2="221.36"/>
<line x1="437.14" y1="204.5" x2="437.14" y2="398.2"/>
<line x1="484.78" y1="204.5" x2="484.78" y2="359.5"/>
<line x1="532.42" y1="204.5" x2="532.42" y2="359.5"/>
<line x1="580.06" y1="204.5" x2="580.06" y2="359.5"/>
</g>
<g class="r"><path d="M394.26 271.33L397.36 274.43L394.26 277.53L391.16 274.43Z"/><path d="M399.03 248.08L402.13 251.18L399.03 254.28L395.93 251.18Z"/><path d="M403.79 236.35L406.89 239.45L403.79 242.55L400.69 239.45Z"/><path d="M408.56 235.16L411.66 238.26L408.56 241.36L405.46 238.26Z"/><path d="M413.32 233.77L416.42 236.87L413.32 239.97L410.22 236.87Z"/><path d="M418.08 231.98L421.18 235.08L418.08 238.18L414.98 235.08Z"/><path d="M422.85 234.56L425.95 237.66L422.85 240.76L419.75 237.66Z"/><path d="M427.61 236.35L430.71 239.45L427.61 242.55L424.51 239.45Z"/><path d="M432.38 238.93L435.48 242.03L432.38 245.13L429.28 242.03Z"/><path d="M437.14 237.34L440.24 240.44L437.14 243.54L434.04 240.44Z"/><path d="M441.9 238.73L445 241.83L441.9 244.93L438.8 241.83Z"/><path d="M446.67 241.32L449.77 244.42L446.67 247.52L443.57 244.42Z"/><path d="M451.43 245.29L454.53 248.39L451.43 251.49L448.33 248.39Z"/><path d="M456.2 247.28L459.3 250.38L456.2 253.48L453.1 250.38Z"/><path d="M460.96 250.86L464.06 253.96L460.96 257.06L457.86 253.96Z"/><path d="M465.72 249.87L468.82 252.97L465.72 256.07L462.62 252.97Z"/><path d="M470.49 249.27L473.59 252.37L470.49 255.47L467.39 252.37Z"/><path d="M475.25 254.24L478.35 257.34L475.25 260.44L472.15 257.34Z"/><path d="M480.02 257.82L483.12 260.92L480.02 264.02L476.92 260.92Z"/><path d="M484.78 259.61L487.88 262.71L484.78 265.81L481.68 262.71Z"/><path d="M489.54 256.03L492.64 259.13L489.54 262.23L486.44 259.13Z"/><path d="M494.31 262.39L497.41 265.49L494.31 268.59L491.21 265.49Z"/><path d="M499.07 263.98L502.17 267.08L499.07 270.18L495.97 267.08Z"/><path d="M503.84 265.97L506.94 269.07L503.84 272.17L500.74 269.07Z"/><path d="M508.6 256.38L511.7 259.48L508.6 262.58L505.5 259.48Z"/><path d="M513.36 260.95L516.46 264.05L513.36 267.15L510.26 264.05Z"/><path d="M518.13 266.32L521.23 269.42L518.13 272.52L515.03 269.42Z"/><path d="M522.89 268.11L525.99 271.21L522.89 274.31L519.79 271.21Z"/><path d="M527.66 269.9L530.76 273L527.66 276.1L524.56 273Z"/><path d="M532.42 272.68L535.52 275.78L532.42 278.88L529.32 275.78Z"/><path d="M537.18 270.89L540.28 273.99L537.18 277.09L534.08 273.99Z"/><path d="M541.95 270.69L545.05 273.79L541.95 276.89L538.85 273.79Z"/><path d="M546.71 271.69L549.81 274.79L546.71 277.89L543.61 274.79Z"/><path d="M551.48 271.88L554.58 274.98L551.48 278.08L548.38 274.98Z"/><path d="M556.24 273.28L559.34 276.38L556.24 279.48L553.14 276.38Z"/><path d="M561 274.47L564.1 277.57L561 280.67L557.9 277.57Z"/><path d="M565.77 275.26L568.87 278.36L565.77 281.46L562.67 278.36Z"/><path d="M570.53 277.25L573.63 280.35L570.53 283.45L567.43 280.35Z"/><path d="M575.3 276.46L578.4 279.56L575.3 282.66L572.2 279.56Z"/><path d="M580.06 279.04L583.16 282.14L580.06 285.24L576.96 282.14Z"/><path d="M584.82 278.25L587.92 281.35L584.82 284.45L581.72 281.35Z"/><path d="M589.59 278.84L592.69 281.94L589.59 285.04L586.49 281.94Z"/><path d="M594.35 278.64L597.45 281.74L594.35 284.84L591.25 281.74Z"/><path d="M599.12 283.81L602.22 286.91L599.12 290.01L596.02 286.91Z"/><path d="M603.88 285.6L606.98 288.7L603.88 291.8L600.78 288.7Z"/><path d="M608.64 284.01L611.74 287.11L608.64 290.21L605.54 287.11Z"/><path d="M613.41 286.2L616.51 289.3L613.41 292.4L610.31 289.3Z"/><path d="M618.17 287.39L621.27 290.49L618.17 293.59L615.07 290.49Z"/><path d="M622.94 289.18L626.04 292.28L622.94 295.38L619.84 292.28Z"/></g>
<g class="gr"><circle cx="394.26" cy="299.68" r="3.1"/><circle cx="399.03" cy="290.54" r="3.1"/><circle cx="403.79" cy="285.37" r="3.1"/><circle cx="408.56" cy="274.43" r="3.1"/><circle cx="413.32" cy="271.45" r="3.1"/><circle cx="418.08" cy="268.87" r="3.1"/><circle cx="422.85" cy="269.86" r="3.1"/><circle cx="427.61" cy="268.27" r="3.1"/><circle cx="432.38" cy="267.28" r="3.1"/><circle cx="437.14" cy="269.46" r="3.1"/><circle cx="441.9" cy="264.3" r="3.1"/><circle cx="446.67" cy="268.87" r="3.1"/><circle cx="451.43" cy="269.07" r="3.1"/><circle cx="456.2" cy="269.46" r="3.1"/><circle cx="460.96" cy="274.63" r="3.1"/><circle cx="465.72" cy="264.1" r="3.1"/><circle cx="470.49" cy="267.87" r="3.1"/><circle cx="475.25" cy="271.25" r="3.1"/><circle cx="480.02" cy="270.66" r="3.1"/><circle cx="484.78" cy="275.43" r="3.1"/><circle cx="489.54" cy="272.65" r="3.1"/><circle cx="494.31" cy="273.44" r="3.1"/><circle cx="499.07" cy="271.25" r="3.1"/><circle cx="503.84" cy="274.63" r="3.1"/><circle cx="508.6" cy="281.74" r="3.1"/><circle cx="513.36" cy="275.38" r="3.1"/><circle cx="518.13" cy="274.59" r="3.1"/><circle cx="522.89" cy="274.79" r="3.1"/><circle cx="527.66" cy="276.57" r="3.1"/><circle cx="532.42" cy="280.55" r="3.1"/><circle cx="537.18" cy="276.18" r="3.1"/><circle cx="541.95" cy="275.98" r="3.1"/><circle cx="546.71" cy="281.15" r="3.1"/><circle cx="551.48" cy="283.13" r="3.1"/><circle cx="556.24" cy="284.53" r="3.1"/><circle cx="561" cy="287.91" r="3.1"/><circle cx="565.77" cy="289.3" r="3.1"/><circle cx="570.53" cy="288.9" r="3.1"/><circle cx="575.3" cy="290.89" r="3.1"/><circle cx="580.06" cy="295.86" r="3.1"/><circle cx="584.82" cy="293.47" r="3.1"/><circle cx="589.59" cy="295.06" r="3.1"/><circle cx="594.35" cy="294.86" r="3.1"/><circle cx="599.12" cy="298.24" r="3.1"/><circle cx="603.88" cy="297.65" r="3.1"/></g>
<g class="bl"><path d="M394.26 316.84L397.26 321.64L391.26 321.64Z"/><path d="M399.03 305.31L402.03 310.11L396.03 310.11Z"/><path d="M403.79 298.35L406.79 303.15L400.79 303.15Z"/><path d="M408.56 295.96L411.56 300.76L405.56 300.76Z"/><path d="M413.32 299.34L416.32 304.14L410.32 304.14Z"/><path d="M418.08 289.21L421.08 294.01L415.08 294.01Z"/><path d="M422.85 296.16L425.85 300.96L419.85 300.96Z"/><path d="M427.61 289.01L430.61 293.81L424.61 293.81Z"/><path d="M432.38 303.32L435.38 308.12L429.38 308.12Z"/><path d="M437.14 291.99L440.14 296.79L434.14 296.79Z"/><path d="M441.9 292.98L444.9 297.78L438.9 297.78Z"/><path d="M446.67 289.4L449.67 294.2L443.67 294.2Z"/><path d="M451.43 294.37L454.43 299.17L448.43 299.17Z"/><path d="M456.2 282.25L459.2 287.05L453.2 287.05Z"/><path d="M460.96 281.25L463.96 286.05L457.96 286.05Z"/><path d="M465.72 271.51L468.72 276.31L462.72 276.31Z"/><path d="M470.49 271.12L473.49 275.92L467.49 275.92Z"/><path d="M475.25 271.51L478.25 276.31L472.25 276.31Z"/><path d="M480.02 257.32L483.02 262.12L477.02 262.12Z"/><path d="M484.78 257.13L487.78 261.93L481.78 261.93Z"/><path d="M489.54 253.55L492.54 258.35L486.54 258.35Z"/><path d="M494.31 272.11L497.31 276.91L491.31 276.91Z"/><path d="M499.07 267.14L502.07 271.94L496.07 271.94Z"/><path d="M503.84 266.74L506.84 271.54L500.84 271.54Z"/><path d="M508.6 264.16L511.6 268.96L505.6 268.96Z"/><path d="M513.36 272.51L516.36 277.31L510.36 277.31Z"/><path d="M518.13 262.97L521.13 267.77L515.13 267.77Z"/><path d="M522.89 252.23L525.89 257.03L519.89 257.03Z"/><path d="M527.66 245.87L530.66 250.67L524.66 250.67Z"/><path d="M532.42 240.51L535.42 245.31L529.42 245.31Z"/><path d="M537.18 235.14L540.18 239.94L534.18 239.94Z"/><path d="M541.95 232.16L544.95 236.96L538.95 236.96Z"/><path d="M546.71 233.55L549.71 238.35L543.71 238.35Z"/><path d="M551.48 229.97L554.48 234.77L548.48 234.77Z"/><path d="M556.24 230.37L559.24 235.17L553.24 235.17Z"/><path d="M561 225L564 229.8L558 229.8Z"/><path d="M565.77 217.84L568.77 222.64L562.77 222.64Z"/><path d="M570.53 210.09L573.53 214.89L567.53 214.89Z"/><path d="M575.3 207.11L578.3 211.91L572.3 211.91Z"/><path d="M580.06 208.1L583.06 212.9L577.06 212.9Z"/><path d="M584.82 204.92L587.82 209.72L581.82 209.72Z"/><path d="M589.59 200.95L592.59 205.75L586.59 205.75Z"/></g>
<g class="t">
<line x1="389.5" y1="358.49" x2="395" y2="358.49"/>
<line x1="627.7" y1="358.49" x2="622.2" y2="358.49"/>
<line x1="389.5" y1="312.78" x2="395" y2="312.78"/>
<line x1="627.7" y1="312.78" x2="622.2" y2="312.78"/>
<line x1="389.5" y1="267.07" x2="395" y2="267.07"/>
<line x1="627.7" y1="267.07" x2="622.2" y2="267.07"/>
<line x1="389.5" y1="221.36" x2="395" y2="221.36"/>
<line x1="627.7" y1="221.36" x2="622.2" y2="221.36"/>
<line x1="437.14" y1="404.2" x2="437.14" y2="398.7"/>
<line x1="437.14" y1="198.5" x2="437.14" y2="204"/>
<line x1="484.78" y1="404.2" x2="484.78" y2="398.7"/>
<line x1="484.78" y1="198.5" x2="484.78" y2="204"/>
<line x1="532.42" y1="404.2" x2="532.42" y2="398.7"/>
<line x1="532.42" y1="198.5" x2="532.42" y2="204"/>
<line x1="580.06" y1="404.2" x2="580.06" y2="398.7"/>
<line x1="580.06" y1="198.5" x2="580.06" y2="204"/>
</g>
<line class="a" style="stroke-width:1.35" x1="388.9" y1="198.5" x2="628.3" y2="198.5"/>
<line class="a" style="stroke-width:1.35" x1="388.9" y1="404.2" x2="628.3" y2="404.2"/>
<line class="a" style="stroke-width:1.35" x1="389.5" y1="198.5" x2="389.5" y2="404.2"/>
<line class="a" style="stroke-width:1.35" x1="627.7" y1="198.5" x2="627.7" y2="404.2"/>
<text x="381.8" y="408.6" text-anchor="end">0.4</text>
<text x="381.8" y="362.89" text-anchor="end">0.5</text>
<text x="381.8" y="317.18" text-anchor="end">0.6</text>
<text x="381.8" y="271.47" text-anchor="end">0.7</text>
<text x="381.8" y="225.76" text-anchor="end">0.8</text>
<text x="437.24" y="421.1" text-anchor="middle">1</text>
<text x="484.88" y="421.1" text-anchor="middle">2</text>
<text x="532.52" y="421.1" text-anchor="middle">3</text>
<text x="580.16" y="421.1" text-anchor="middle">4</text>
<text x="627.8" y="421.1" text-anchor="middle">5</text>
<text x="568.4" y="371.8" text-anchor="end">Elo=1-2199</text>
<text x="568.4" y="384.4" text-anchor="end">Elo=2200-2399</text>
<text x="568.4" y="397" text-anchor="end">Elo=2400-2851</text>
<g class="r"><path d="M594.3 363.9L597.4 367L594.3 370.1L591.2 367Z"/></g>
<g class="gr"><circle cx="594.3" cy="379.6" r="3.1"/></g>
<g class="bl"><path d="M594.3 389.6L597.3 394.4L591.3 394.4Z"/></g>
<text transform="translate(341.9,301.5) rotate(-90)" text-anchor="middle" font-size="13">H</text>
<text x="481" y="441.7">size x10<tspan dy="-5.5" font-size="9.8">-5</tspan></text>
</svg></body></html>
